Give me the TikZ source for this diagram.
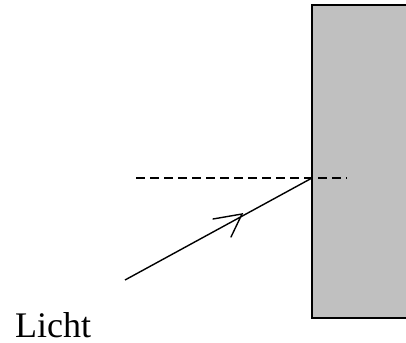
\documentclass[tikz,border=0pt]{standalone}
\usepackage{fontspec}
\setmainfont{Liberation Serif}
\begin{document}
\begin{tikzpicture}[x=1pt,y=-1pt,
  ray/.style={line width=1.4pt},
  block/.style={draw=black,fill={rgb,255:red,192;green,192;blue,192},line width=1.6pt},
  normal/.style={line width=1.4pt,dash pattern=on 9pt off 5pt}]
\clip (0,0) rectangle (406,342);
\fill[white] (0,0) rectangle (406,342);
\draw[block] (312,5) rectangle (420,318);
\coordinate (hit) at (312,178);
\coordinate (src) at (125,280);
\coordinate (nl) at (136,178);
\coordinate (nr) at (347,178);
\draw[normal] (nl) -- (nr);
\draw[ray] (src) -- (hit);
\coordinate (tip) at (242,214);
\draw[ray,line cap=round] (213,219) -- (tip) -- (231,237);
\node[anchor=base west,font=\fontsize{36}{40}\selectfont,inner sep=0pt] (lbl) at (15,337) {Licht};
\end{tikzpicture}
\end{document}
